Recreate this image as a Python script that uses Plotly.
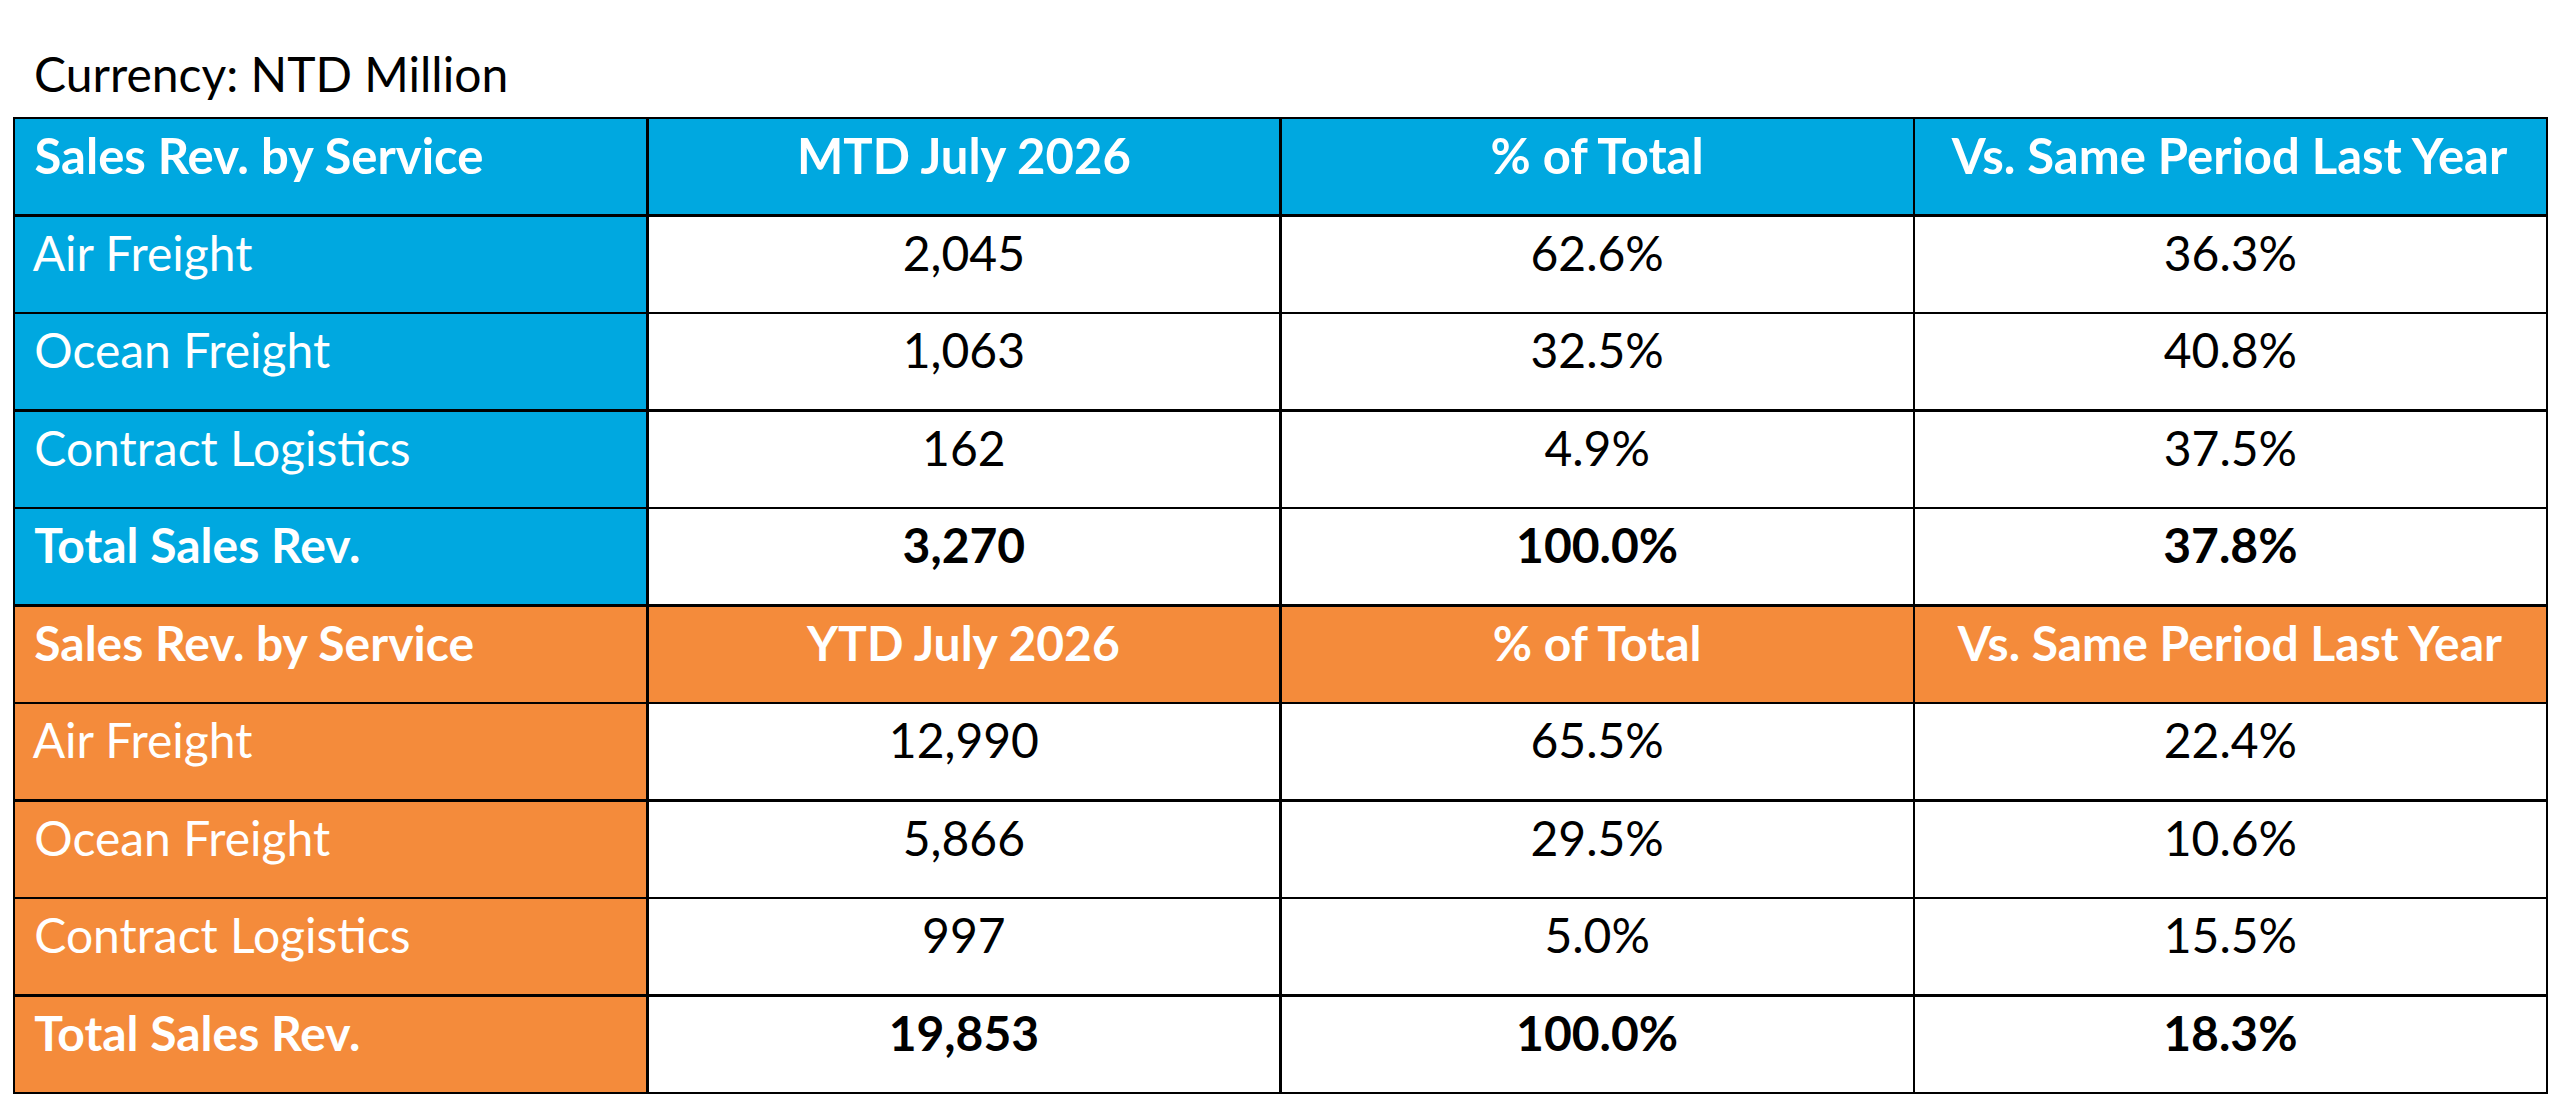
import plotly.graph_objects as go

# 数据
services = ['Air Freight', 'Ocean Freight', 'Contract Logistics', 'Total Sales Rev.']
header_cols = ['Sales Rev. by Service', 'MTD July 2026', '% of Total', 'Vs. Same Period Last Year']
ytd_header = ['Sales Rev. by Service', 'YTD July 2026', '% of Total', 'Vs. Same Period Last Year']

mtd_rev = [2045, 1063, 162, 3270]
mtd_pct = [62.6, 32.5, 4.9, 100.0]
mtd_yoy = [36.3, 40.8, 37.5, 37.8]

ytd_rev = [12990, 5866, 997, 19853]
ytd_pct = [65.5, 29.5, 5.0, 100.0]
ytd_yoy = [22.4, 10.6, 15.5, 18.3]

BLUE = '#00A8E0'
ORANGE = '#F48B3B'
PAD = '\u00a0'
FONT = 'Lato, Open Sans, sans-serif'


def fmt(s, b):
    # 用标签包一下, 让表格里的文字垂直居中
    return '<b>' + s + '</b>' if b else '<span>' + s + '</span>'


# 组装表格各列
col0, col1, col2, col3 = [], [], [], []
fill0, fill_rest = [], []

for i, s in enumerate(services):
    b = s.startswith('Total')
    col0.append(PAD + fmt(s, b))
    col1.append(fmt(f'{mtd_rev[i]:,}', b))
    col2.append(fmt(f'{mtd_pct[i]:.1f}%', b))
    col3.append(fmt(f'{mtd_yoy[i]:.1f}%', b))
    fill0.append(BLUE)
    fill_rest.append('white')

# 橙色表头行
col0.append(PAD + fmt(ytd_header[0], True))
col1.append(fmt(ytd_header[1], True))
col2.append(fmt(ytd_header[2], True))
col3.append(fmt(ytd_header[3], True))
fill0.append(ORANGE)
fill_rest.append(ORANGE)

for i, s in enumerate(services):
    b = s.startswith('Total')
    col0.append(PAD + fmt(s, b))
    col1.append(fmt(f'{ytd_rev[i]:,}', b))
    col2.append(fmt(f'{ytd_pct[i]:.1f}%', b))
    col3.append(fmt(f'{ytd_yoy[i]:.1f}%', b))
    fill0.append(ORANGE)
    fill_rest.append('white')

font_rest = ['white' if f == ORANGE else 'black' for f in fill_rest]
font0 = ['white'] * len(fill0)

ROW_H = 97.5
W, H = 2560, 1111

fig = go.Figure()

fig.add_trace(go.Table(
    domain=dict(x=[6 / W, 2539 / W], y=[0, 1 - 110 / H]),
    columnwidth=[1, 1, 1, 1],
    header=dict(
        values=[PAD + fmt(header_cols[0], True)] + [fmt(h, True) for h in header_cols[1:]],
        fill_color=BLUE,
        font=dict(family=FONT, size=49, color='white'),
        align=['left', 'center', 'center', 'center'],
        line=dict(color='black', width=2.5),
        height=ROW_H,
    ),
    cells=dict(
        values=[col0, col1, col2, col3],
        fill_color=[fill0, fill_rest, fill_rest, fill_rest],
        font=dict(family=FONT, size=48,
                  color=[font0, font_rest, font_rest, font_rest]),
        align=['left', 'center', 'center', 'center'],
        line=dict(color='black', width=2.5),
        height=ROW_H,
    ),
))

fig.add_annotation(
    text='Currency: NTD Million',
    xref='paper', yref='paper',
    x=24 / W, y=1 - 65 / H,
    xanchor='left', yanchor='middle',
    showarrow=False,
    font=dict(family=FONT, size=48, color='black'),
)

fig.update_layout(
    width=W, height=H,
    margin=dict(l=0, r=0, t=0, b=0),
    paper_bgcolor='white',
    plot_bgcolor='white',
)

fig.write_html('out.html')
